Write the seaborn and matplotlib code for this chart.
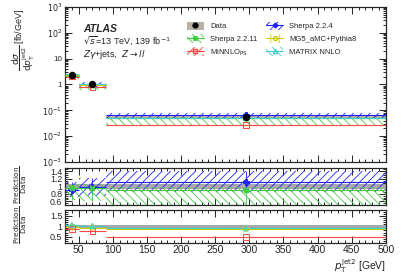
import numpy as np
import pandas as pd
import matplotlib
matplotlib.use("Agg")
import matplotlib.pyplot as plt
import seaborn as sns
from matplotlib.ticker import MultipleLocator, LogLocator, NullFormatter
from matplotlib.patches import Patch
from matplotlib.lines import Line2D

# bins in pT(jet2) [GeV]
bin_edges = [30, 50, 90, 500]
bin_centres = [40, 70, 295]

# measured cross section [fb/GeV] and relative uncertainty
data_vals = [2.3, 1.02, 0.056]
data_rel = [0.07, 0.06, 0.06]

# predictions [fb/GeV]
sherpa224 = [2.1, 1.0, 0.063]
sherpa2211 = [2.2, 0.97, 0.050]
minnlo = [2.0, 0.79, 0.027]
mg5 = [2.25, 0.96, 0.049]
matrix = [2.45, 1.04, 0.051]

# relative uncertainty bands of predictions (down, up)
sherpa224_unc = ([0.22, 0.25, 0.25], [0.22, 0.25, 0.25])
sherpa2211_unc = ([0.35, 0.35, 0.45], [0.12, 0.12, 0.10])
minnlo_unc = ([0.03, 0.03, 0.03], [0.03, 0.03, 0.03])
mg5_unc = ([0.03, 0.03, 0.03], [0.03, 0.03, 0.03])
matrix_unc = ([0.04, 0.04, 0.04], [0.04, 0.04, 0.04])

sns.set_style("ticks")
plt.rcParams["font.family"] = ["Liberation Sans", "DejaVu Sans"]
plt.rcParams["hatch.linewidth"] = 0.6

fig = plt.figure(figsize=(4.07, 2.76), dpi=100)
ax_main = fig.add_axes([0.160, 0.413, 0.788, 0.562])
ax_r1 = fig.add_axes([0.160, 0.257, 0.788, 0.136])
ax_r2 = fig.add_axes([0.160, 0.120, 0.788, 0.120])

left = np.array(bin_edges[:-1], dtype=float)
right = np.array(bin_edges[1:], dtype=float)
width = right - left
data = np.array(data_vals)

models = [
    ("Sherpa 2.2.4", sherpa224, sherpa224_unc, "#2222ff", "////", "P", ax_r1),
    ("Sherpa 2.2.11", sherpa2211, sherpa2211_unc, "#44cc44", "\\\\\\\\", "X", ax_r1),
    ("MiNNLO$_{\\mathrm{PS}}$", minnlo, minnlo_unc, "#ff4444", "////", "s", ax_r2),
    ("MG5_aMC+Pythia8", mg5, mg5_unc, "#cccc00", "||", "o", ax_r2),
    ("MATRIX NNLO", matrix, matrix_unc, "#44cccc", "\\\\\\\\", "^", ax_r2),
]

band_grey = "#b9b0a6"

# data bands
ax_main.bar(left, 2 * data * np.array(data_rel), width=width, bottom=data * (1 - np.array(data_rel)),
            align="edge", color=band_grey, linewidth=0, zorder=1)
for ax in (ax_r1, ax_r2):
    ax.bar(left, 2 * np.array(data_rel), width=width, bottom=1 - np.array(data_rel),
           align="edge", color="#a8a8a8", linewidth=0, zorder=1)

rows = []
for name, vals, unc, col, hatch, mk, rax in models:
    v = np.array(vals)
    dn, up = np.array(unc[0]), np.array(unc[1])
    ax_main.bar(left, v * (up + dn), width=width, bottom=v * (1 - dn), align="edge",
                fill=False, hatch=hatch, edgecolor=col, linewidth=0, zorder=2)
    ax_main.hlines(v, left, right, color=col, lw=0.8, zorder=3)
    r = v / data
    rax.bar(left, r * (up + dn), width=width, bottom=r * (1 - dn), align="edge",
            fill=False, hatch=hatch, edgecolor=col, linewidth=0, zorder=2)
    rax.hlines(r, left, right, color=col, lw=0.8, zorder=3)
    rax.vlines(bin_centres, r * (1 - dn), r * (1 + up), color=col, lw=0.6, zorder=3)
    for i in range(3):
        rows.append({"model": name, "x": bin_centres[i], "y": v[i], "ratio": r[i]})

pred_df = pd.DataFrame(rows)

# prediction markers
for name, vals, unc, col, hatch, mk, rax in models:
    sub = pred_df[pred_df["model"] == name]
    filled = mk in ("P", "X")
    sns.scatterplot(data=sub, x="x", y="y", ax=ax_main, marker=mk, s=14,
                    facecolor=col if filled else "none", edgecolor=col, linewidth=0.7,
                    legend=False, zorder=4)
    sns.scatterplot(data=sub, x="x", y="ratio", ax=rax, marker=mk, s=14,
                    facecolor=col if filled else "none", edgecolor=col, linewidth=0.7,
                    legend=False, zorder=4)

# data points
data_df = pd.DataFrame({"x": bin_centres, "y": data_vals})
ax_main.errorbar(bin_centres, data, yerr=data * np.array(data_rel), fmt="none", ecolor="k", lw=0.8, zorder=5)
sns.scatterplot(data=data_df, x="x", y="y", ax=ax_main, color="k", s=28, linewidth=0, zorder=6, legend=False)

# axes styling
for ax in (ax_main, ax_r1, ax_r2):
    ax.set_xlim(30, 500)
    ax.xaxis.set_major_locator(MultipleLocator(50))
    ax.xaxis.set_minor_locator(MultipleLocator(10))
    ax.tick_params(which="both", direction="in", top=True, right=True, labelsize=7, width=0.7, pad=2)
    ax.tick_params(which="major", length=5)
    ax.tick_params(which="minor", length=2.5)
    for s in ax.spines.values():
        s.set_linewidth(0.9)
    ax.set_xlabel("")
    ax.set_ylabel("")

ax_main.set_yscale("log")
ax_main.set_ylim(1e-3, 1e3)
ax_main.yaxis.set_minor_locator(LogLocator(base=10, subs=np.arange(2, 10), numticks=20))
ax_main.yaxis.set_minor_formatter(NullFormatter())
ax_main.set_yticks([1e-3, 1e-2, 1e-1, 1, 10, 1e2, 1e3])
ax_main.set_yticklabels(["$10^{-3}$", "$10^{-2}$", "$10^{-1}$", "1", "10", "$10^{2}$", "$10^{3}$"], fontsize=5.8)
ax_main.tick_params(axis="x", labelbottom=False)

ax_r1.set_ylim(0.5, 1.5)
ax_r1.set_yticks([0.6, 0.8, 1.0, 1.2, 1.4])
ax_r1.set_yticklabels(["0.6", "0.8", "1", "1.2", "1.4"], fontsize=6.3)
ax_r1.yaxis.set_minor_locator(MultipleLocator(0.05))
ax_r1.tick_params(axis="x", labelbottom=False)

ax_r2.set_ylim(0.2, 1.8)
ax_r2.set_yticks([0.5, 1.0, 1.5])
ax_r2.set_yticklabels(["0.5", "1", "1.5"], fontsize=6.5)
ax_r2.yaxis.set_minor_locator(MultipleLocator(0.1))
ax_r2.tick_params(axis="x", labelsize=7.5, pad=1.5)

fig.text(0.948, 0.003, r"$p_{\mathrm{T}}^{\mathrm{jet2}}$ [GeV]", ha="right", va="bottom", fontsize=7.5)
fig.text(0.06, 0.97, r"$\dfrac{\mathrm{d}\sigma}{\mathrm{d}p_{\mathrm{T}}^{\mathrm{jet2}}}$ [fb/GeV]",
         rotation=90, ha="center", va="top", fontsize=6.5)
for ax in (ax_r1, ax_r2):
    pos = ax.get_position()
    fig.text(0.05, pos.y0 + pos.height * 0.55, r"$\dfrac{\mathrm{Prediction}}{\mathrm{Data}}$",
             rotation=90, ha="center", va="center", fontsize=5.3)

# labels
ax_main.text(0.055, 0.84, "ATLAS", transform=ax_main.transAxes, fontsize=7.5,
             fontweight="bold", fontstyle="italic")
ax_main.text(0.055, 0.76, r"$\sqrt{s}$=13 TeV, 139 fb$^{-1}$", transform=ax_main.transAxes, fontsize=6.5)
ax_main.text(0.055, 0.68, r"$Z\gamma$+jets,  $Z\rightarrow ll$", transform=ax_main.transAxes, fontsize=6.5)

# legend
h_data = (Patch(facecolor=band_grey, edgecolor="none"),
          Line2D([], [], marker="o", color="k", ls="none", markersize=3.5))
handles, labels = [h_data], ["Data"]
for name, vals, unc, col, hatch, mk, rax in models:
    filled = mk in ("P", "X")
    handles.append((Patch(fill=False, hatch=hatch, edgecolor=col, linewidth=0),
                    Line2D([], [], color=col, lw=0.8, marker=mk, markersize=3,
                           markerfacecolor=col if filled else "none", markeredgecolor=col)))
    labels.append(name)
order = [0, 2, 3, 1, 4, 5]
ax_main.legend([handles[i] for i in order], [labels[i] for i in order], ncol=2,
               loc="upper right", bbox_to_anchor=(0.93, 0.95), frameon=False,
               fontsize=5.5, handlelength=2.2, handleheight=1.4,
               columnspacing=1.2, labelspacing=0.5)

fig.savefig("out.png", dpi=100)
